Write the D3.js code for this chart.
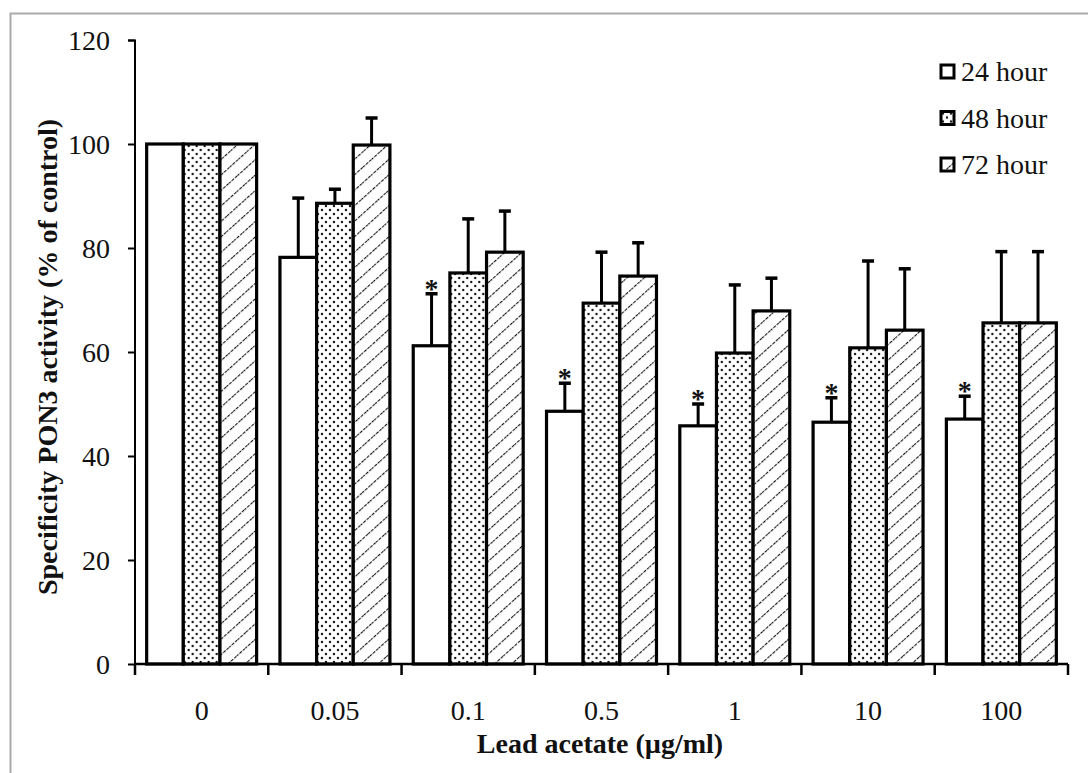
<!DOCTYPE html>
<html>
<head>
<meta charset="utf-8">
<script src="https://cdn.jsdelivr.net/npm/d3@7"></script>
<style>
  body { margin: 0; background: #fff; }
</style>
</head>
<body>
<svg id="chart" width="1088" height="773"></svg>
<script>
// data
const doses = ["0", "0.05", "0.1", "0.5", "1", "10", "100"];
const series = ["24 hour", "48 hour", "72 hour"];
const h24 = [100, 78.2, 61.2, 48.6, 45.8, 46.5, 47.1];
const h48 = [100, 88.6, 75.2, 69.4, 59.8, 60.8, 65.6];
const h72 = [100, 99.8, 79.2, 74.6, 67.9, 64.2, 65.6];
const err24 = [0, 11.4, 10.0, 5.4, 4.2, 4.7, 4.4];
const err48 = [0, 2.7, 10.4, 9.8, 13.1, 16.7, 13.7];
const err72 = [0, 5.2, 7.9, 6.4, 6.3, 11.8, 13.7];
const star24 = [false, false, true, true, true, true, true];
const yTicks = [0, 20, 40, 60, 80, 100, 120];

const values = [h24, h48, h72];
const errors = [err24, err48, err72];

const FONT = "'Liberation Serif', 'Times New Roman', 'DejaVu Serif', serif";
const FS = 28;

let svg = d3.select('#chart'),
    margin = {left: 135, right: 20, top: 40, bottom: 109},
    width = 1068 - margin.left,
    height = 664 - margin.top;

function txt(sel, size, bold) {
    return sel.attr("font-family", FONT)
        .attr("font-size", size)
        .attr("font-weight", bold ? "bold" : "normal")
        .attr("fill", "#111")
        .style("font-family", FONT)
        .style("font-size", size + "px");
}

// frame
svg.append("path")
    .attr("d", "M10.5,773 V13.5 H1088")
    .attr("fill", "none")
    .attr("stroke", "#aaa")
    .attr("stroke-width", 2);

let defs = svg.append("defs");

let dots = defs.append("pattern")
    .attr("id", "dots")
    .attr("patternUnits", "userSpaceOnUse")
    .attr("width", 8).attr("height", 8);
dots.append("rect").attr("width", 8).attr("height", 8).attr("fill", "#fff");
dots.append("circle").attr("cx", 2).attr("cy", 2).attr("r", 1.2).attr("fill", "#111");
dots.append("circle").attr("cx", 6).attr("cy", 6).attr("r", 1.2).attr("fill", "#111");

let hatch = defs.append("pattern")
    .attr("id", "hatch")
    .attr("patternUnits", "userSpaceOnUse")
    .attr("width", 11.5).attr("height", 11.5)
    .attr("patternTransform", "rotate(48)");
hatch.append("rect").attr("width", 11.5).attr("height", 11.5).attr("fill", "#fff");
hatch.append("line")
    .attr("x1", 0).attr("y1", 0.5).attr("x2", 0).attr("y2", 11.5)
    .attr("stroke", "#111").attr("stroke-width", 2.2)
    .attr("stroke-dasharray", "3.2,1.2");

const fills = ["#fff", "url(#dots)", "url(#hatch)"];

let g = svg.append("g").attr("transform", "translate(" + margin.left + "," + margin.top + ")");

let x0 = d3.scaleBand()
    .domain(doses)
    .range([0, width])
    .paddingInner(0.175)
    .paddingOuter(0.0875);

let x1 = d3.scaleBand()
    .domain(series)
    .range([0, x0.bandwidth()]);

let y = d3.scaleLinear()
    .domain([0, 120])
    .range([height, 0]);

// bars
let groups = g.selectAll(".grp")
    .data(doses)
    .enter().append("g")
    .attr("class", "grp")
    .attr("transform", d => "translate(" + x0(d) + ",0)");

groups.each(function(dose, i) {
    let grp = d3.select(this);
    let rows = series.map((s, k) => ({s: s, k: k, v: values[k][i], e: errors[k][i]}));

    grp.selectAll("rect.bar")
        .data(rows)
        .enter().append("rect")
        .attr("class", "bar")
        .attr("x", d => x1(d.s))
        .attr("y", d => y(d.v))
        .attr("width", x1.bandwidth())
        .attr("height", d => height - y(d.v))
        .attr("fill", d => fills[d.k])
        .attr("stroke", "#000")
        .attr("stroke-width", 3.2);

    let withErr = rows.filter(d => d.e > 0);
    grp.selectAll("line.err")
        .data(withErr)
        .enter().append("line")
        .attr("x1", d => x1(d.s) + x1.bandwidth() / 2)
        .attr("x2", d => x1(d.s) + x1.bandwidth() / 2)
        .attr("y1", d => y(d.v))
        .attr("y2", d => y(d.v + d.e))
        .attr("stroke", "#000").attr("stroke-width", 3);
    grp.selectAll("line.cap")
        .data(withErr)
        .enter().append("line")
        .attr("x1", d => x1(d.s) + x1.bandwidth() / 2 - 6)
        .attr("x2", d => x1(d.s) + x1.bandwidth() / 2 + 6)
        .attr("y1", d => y(d.v + d.e))
        .attr("y2", d => y(d.v + d.e))
        .attr("stroke", "#000").attr("stroke-width", 3.5);

    if (star24[i]) {
        txt(grp.append("text"), 28, true)
            .attr("x", x1(series[0]) + x1.bandwidth() / 2)
            .attr("y", y(h24[i] + err24[i]) + 4)
            .attr("text-anchor", "middle")
            .text("*");
    }
});

// y axis
let yAxis = g.append("g")
    .call(d3.axisLeft(y).tickValues(yTicks).tickSize(7).tickPadding(18));
yAxis.select(".domain").attr("stroke", "#000").attr("stroke-width", 2).attr("d", "M-7,0.5 H0 V" + height);
yAxis.selectAll(".tick line").attr("stroke", "#000").attr("stroke-width", 2);
txt(yAxis.selectAll(".tick text"), FS, false).attr("dy", "0.33em");

// x axis: ticks at group boundaries
let bounds = doses.map(d => x0(d) - x0.step() * 0.0875).concat([width]);
let xg = g.append("g").attr("transform", "translate(0," + height + ")");
xg.append("line")
    .attr("x1", 0).attr("x2", width)
    .attr("stroke", "#000").attr("stroke-width", 2.5);
xg.selectAll("line.tick")
    .data(bounds)
    .enter().append("line")
    .attr("x1", d => d).attr("x2", d => d)
    .attr("y1", 0).attr("y2", 11)
    .attr("stroke", "#000").attr("stroke-width", 2.5);
txt(xg.selectAll("text.lab")
    .data(doses)
    .enter().append("text"), FS, false)
    .attr("x", d => x0(d) + x0.bandwidth() / 2)
    .attr("y", 56)
    .attr("text-anchor", "middle")
    .text(d => d);

// axis titles
txt(svg.append("text"), FS, true)
    .attr("x", 600).attr("y", 753)
    .attr("text-anchor", "middle")
    .text("Lead acetate (µg/ml)");

txt(svg.append("text"), FS, true)
    .attr("transform", "translate(57,357) rotate(-90)")
    .attr("text-anchor", "middle")
    .text("Specificity PON3 activity (% of control)");

// legend
let legend = svg.append("g").attr("transform", "translate(941,65)");
let item = legend.selectAll("g")
    .data(series)
    .enter().append("g")
    .attr("transform", (d, i) => "translate(0," + i * 46.5 + ")");
item.append("rect")
    .attr("width", 13).attr("height", 13)
    .attr("fill", (d, i) => fills[i])
    .attr("stroke", "#000").attr("stroke-width", 3);
txt(item.append("text"), FS, false)
    .attr("x", 20).attr("y", 16)
    .text(d => d);
</script>
</body>
</html>
